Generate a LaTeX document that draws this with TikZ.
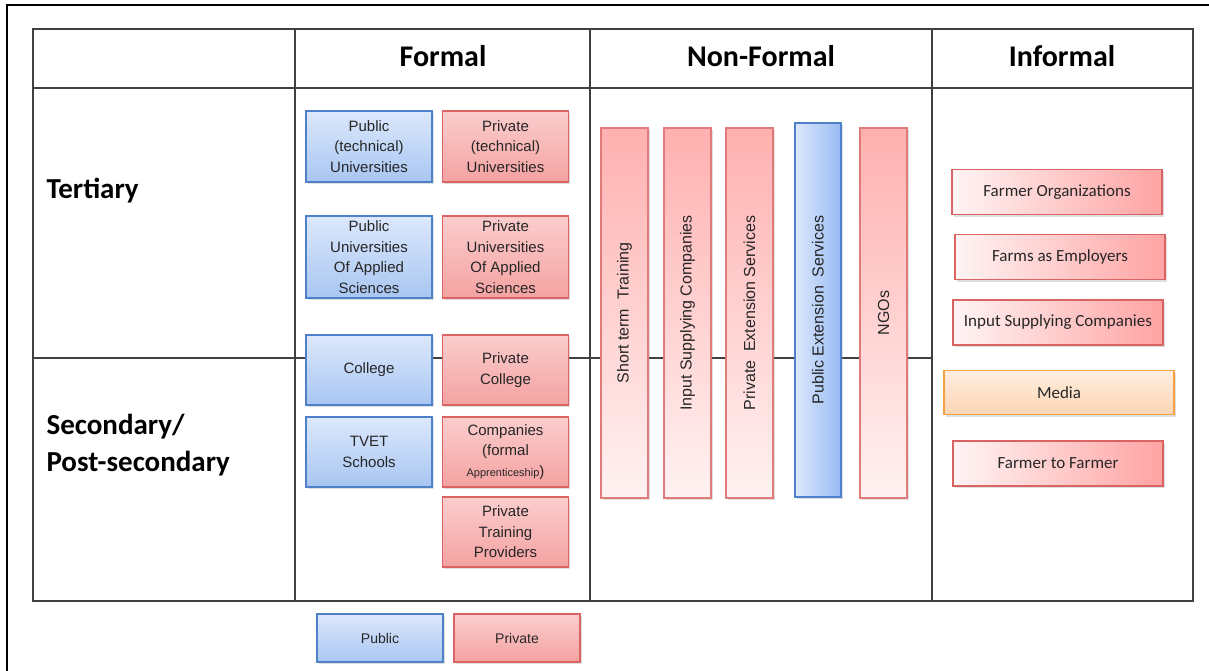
\documentclass[tikz,border=0pt]{standalone}
\usepackage{fontspec}
\setmainfont{Liberation Sans}
\newfontfamily\calibri{Carlito}
\usepackage{xcolor}
\usepackage{graphicx}
\usetikzlibrary{calc, positioning, shadows}

\definecolor{gridline}{HTML}{404040}
\definecolor{publine}{HTML}{4F81C9}
\definecolor{pubtop}{HTML}{DCE8FC}
\definecolor{pubbot}{HTML}{A8C6F2}
\definecolor{pubright}{HTML}{98BBF3}
\definecolor{privline}{HTML}{DA6463}
\definecolor{privtop}{HTML}{FBCDCD}
\definecolor{privbot}{HTML}{F4A2A1}
\definecolor{bartop}{HTML}{FFB0B0}
\definecolor{barbot}{HTML}{FFF2F2}
\definecolor{infleft}{HTML}{FFF4F4}
\definecolor{infright}{HTML}{FFA3A3}
\definecolor{medialine}{HTML}{F5A043}
\definecolor{mediatop}{HTML}{FFEEDF}
\definecolor{mediabot}{HTML}{FDD5B5}

\newcommand{\vtext}[1]{\rotatebox{90}{#1}}

\tikzset{
  softshadow/.style={drop shadow={opacity=0.25, shadow xshift=1.5pt, shadow yshift=-2pt}},
  formalbox/.style={rectangle, draw, line width=1.5, softshadow, minimum width=126, minimum height=70,
    inner sep=1pt, align=center, text=black!85, font=\fontsize{15}{20.5}\selectfont},
  pubbox/.style={formalbox, draw=publine, top color=pubtop, bottom color=pubbot},
  privbox/.style={formalbox, draw=privline, top color=privtop, bottom color=privbot},
  barbox/.style={rectangle, draw=privline!85, line width=1.5, softshadow, minimum width=47, minimum height=370,
    inner sep=0pt, text=black!85, font=\fontsize{16}{18}\selectfont},
  privbar/.style={barbox, top color=bartop, bottom color=barbot},
  pubbar/.style={barbox, draw=publine, minimum width=46, minimum height=374, left color=pubtop, right color=pubright},
  infbox/.style={rectangle, draw=privline, line width=1.5, softshadow, minimum width=210, minimum height=45,
    left color=infleft, right color=infright, text=black!85, font=\calibri\fontsize{17}{20}\selectfont},
  mediabox/.style={infbox, draw=medialine, minimum width=230, minimum height=44, top color=mediatop, bottom color=mediabot},
  legendbox/.style={formalbox, minimum height=48, font=\fontsize{14}{17}\selectfont},
  headtext/.style={font=\calibri\bfseries\fontsize{30}{34}\selectfont},
  rowtext/.style={anchor=west, align=left, font=\calibri\bfseries\fontsize{29}{37}\selectfont}
}

\begin{document}
\begin{tikzpicture}[x=1pt, y=-1pt]
  \useasboundingbox (0,0) rectangle (1209,671);

  % frame and grid %
  \draw[line width=1.2] (7,671) -- (7,5) -- (1209,5);
  \draw[gridline, line width=2] (33,29) rectangle (1193,601);
  \draw[gridline, line width=2] (33,88) -- (1193,88);
  \draw[gridline, line width=2] (33,358) -- (932,358);
  \foreach \colx in {295,590,932}
    \draw[gridline, line width=2] (\colx,29) -- (\colx,601);

  % headers %
  \node[headtext] (formal) at (443,56) {Formal};
  \node[headtext] (nonformal) at (761,56) {Non-Formal};
  \node[headtext] (informal) at (1062,56) {Informal};
  \node[rowtext] (tertiary) at (43,191) {Tertiary};
  \node[rowtext] (secondary) at (43,445) {Secondary/\\Post-secondary};

  % formal nodes %
  \node[pubbox, minimum height=71] (pubtech) at (369,146.5) {Public\\(technical)\\Universities};
  \node[privbox, minimum height=71] (privtech) at (505.5,146.5) {Private\\(technical)\\Universities};
  \node[pubbox, minimum height=82] (pubuas) at (369,257) {Public\\Universities\\Of Applied\\Sciences};
  \node[privbox, minimum height=82] (privuas) at (505.5,257) {Private\\Universities\\Of Applied\\Sciences};
  \node[pubbox] (college) at (369,370) {College};
  \node[privbox] (privcollege) at (505.5,370) {Private\\College};
  \node[pubbox] (tvet) at (369,452) {TVET\\Schools};
  \node[privbox] (companies) at (505.5,452) {Companies\\(formal\\{\fontsize{11}{13}\selectfont Apprenticeship})};
  \node[privbox] (privtrain) at (505.5,532) {Private\\Training\\Providers};

  % non-formal nodes %
  \node[privbar] (shortterm) at (624.5,313) {\vtext{Short term\ \ Training}};
  \node[privbar] (nfinput) at (687.5,313) {\vtext{Input Supplying Companies}};
  \node[privbar] (privext) at (749.5,313) {\vtext{Private\ \ Extension Services}};
  \node[pubbar] (pubext) at (818,310) {\vtext{Public Extension\ \ Services}};
  \node[privbar] (ngos) at (883.5,313) {\vtext{NGOs}};

  % informal nodes %
  \node[infbox] (farmerorg) at (1057,192) {Farmer Organizations};
  \node[infbox] (farms) at (1060,257) {Farms as Employers};
  \node[infbox] (infinput) at (1058,322.5) {Input Supplying Companies};
  \node[mediabox] (media) at (1059,392.5) {Media};
  \node[infbox] (f2f) at (1058,463.5) {Farmer to Farmer};

  % legend %
  \node[legendbox, draw=publine, top color=pubtop, bottom color=pubbot] (legpub) at (380,638) {Public};
  \node[legendbox, draw=privline, top color=privtop, bottom color=privbot] (legpriv) at (517,638) {Private};
\end{tikzpicture}
\end{document}
